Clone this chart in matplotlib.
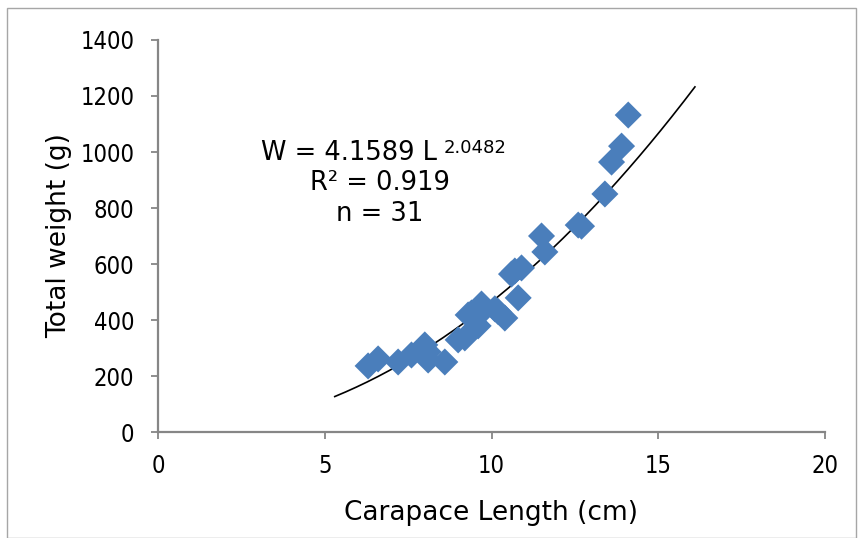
import matplotlib
matplotlib.use("Agg")
import matplotlib.pyplot as plt
import numpy as np
from matplotlib.patches import Rectangle
from matplotlib import font_manager

# Data
length_cm = [6.3, 6.6, 7.2, 7.6, 8.0, 8.1, 8.1, 8.6, 9.0, 9.2, 9.3, 9.5, 9.6, 9.7, 9.8,
             10.1, 10.2, 10.4, 10.6, 10.7, 10.9, 10.8, 11.5, 11.6, 12.6, 12.7, 13.4,
             13.6, 13.9, 14.1, 9.4]
weight_g = [236, 261, 250, 275, 311, 286, 257, 250, 329, 336, 418, 430, 379, 457, 440,
            440, 430, 407, 564, 575, 586, 479, 700, 643, 739, 735, 850,
            964, 1021, 1132, 425]

# Power trend line parameters (as printed on chart)
coef_a = 4.1589
coef_b = 2.0482
trend_range = (5.3, 16.1)

x_ticks = [0, 5, 10, 15, 20]
y_ticks = [0, 200, 400, 600, 800, 1000, 1200, 1400]

W, H = 858, 538
fig = plt.figure(figsize=(W / 100, H / 100), dpi=100)
ax = fig.add_axes([158 / W, 1 - 432 / H, (825 - 158) / W, (432 - 40) / H])

fig.patches.append(Rectangle((7 / W, 0), (856 - 7) / W, 1 - 8 / H, transform=fig.transFigure,
                             fill=False, edgecolor="#a6a6a6", lw=1.0))

ax.scatter(length_cm, weight_g, marker="D", s=190, color="#4a7ebb", edgecolors="none", zorder=3)

xt = np.linspace(trend_range[0], trend_range[1], 200)
ax.plot(xt, coef_a * xt ** coef_b, color="black", lw=1.2, zorder=2)

ax.set_xlim(0, 20)
ax.set_ylim(0, 1400)
ax.set_xticks(x_ticks)
ax.set_yticks(y_ticks)
for s in ["top", "right"]:
    ax.spines[s].set_visible(False)
for s in ["left", "bottom"]:
    ax.spines[s].set_color("#868686")
    ax.spines[s].set_linewidth(1.6)
ax.tick_params(axis="both", direction="out", color="#868686", length=5, width=1.3,
               labelcolor="black")
ax.tick_params(axis="x", pad=11)
ax.tick_params(axis="y", pad=12)
tick_font = font_manager.FontProperties(family="DejaVu Sans", stretch="condensed", size=17)
for lab in ax.get_xticklabels() + ax.get_yticklabels():
    lab.set_fontproperties(tick_font)

ax.set_xlabel("Carapace Length (cm)", fontsize=19, labelpad=16)
ax.set_ylabel("Total weight (g)", fontsize=19)
ax.yaxis.set_label_coords(-0.129, 0.5)

ax.text(8.37, 996, "W = 4.1589 L", fontsize=18.5, ha="right", va="center")
ax.text(8.55, 1014, "2.0482", fontsize=13, ha="left", va="center")
ax.text(6.66, 889, "R² = 0.919", fontsize=18.5, ha="center", va="center")
ax.text(6.66, 780, "n = 31", fontsize=18.5, ha="center", va="center")

fig.savefig("out.png", dpi=100)
